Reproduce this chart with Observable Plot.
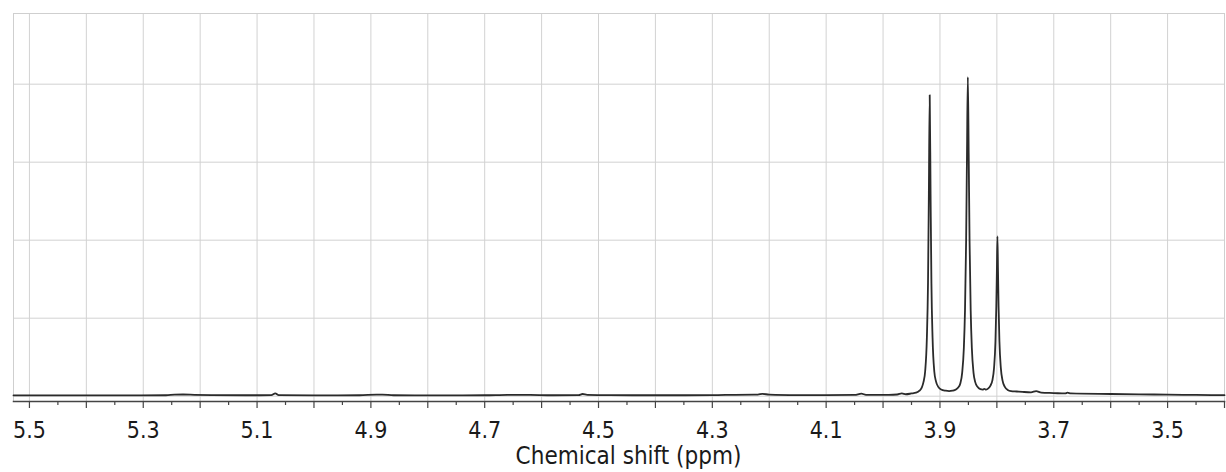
<!DOCTYPE html>
<html>
<head>
<meta charset="utf-8">
<script src="https://cdn.jsdelivr.net/npm/d3@7"></script>
<script src="https://cdn.jsdelivr.net/npm/@observablehq/plot@0.6"></script>
<style>
  html, body { margin: 0; padding: 0; background: #fff; }
</style>
</head>
<body>
<div id="chart"></div>
<script>
// Chemical shift (ppm) and intensity (arbitrary units, 1 = one grid step)
const shift = [
  5.528, 5.45, 5.35, 5.26, 5.245, 5.23, 5.21, 5.18, 5.12, 5.075, 5.068, 5.062, 5.00,
  4.92, 4.89, 4.88, 4.86, 4.78, 4.70, 4.66, 4.62, 4.58, 4.535, 4.528, 4.52, 4.48,
  4.40, 4.30, 4.26, 4.22, 4.212, 4.20, 4.15, 4.10, 4.05, 4.038, 4.03, 3.99, 3.975,
  3.967, 3.960,
  3.950, 3.942, 3.936, 3.932, 3.929, 3.926, 3.923, 3.921, 3.9195, 3.918, 3.9165, 3.915,
  3.913, 3.910, 3.907, 3.903, 3.898, 3.890, 3.884, 3.878,
  3.872, 3.868, 3.864, 3.861, 3.858, 3.856, 3.854, 3.8525, 3.851, 3.8495, 3.848, 3.846,
  3.844, 3.841, 3.838, 3.834, 3.829, 3.825, 3.822, 3.819,
  3.815, 3.811, 3.808, 3.805, 3.8025, 3.801, 3.800, 3.799, 3.798, 3.797, 3.7955, 3.793,
  3.790, 3.786, 3.781, 3.775, 3.765, 3.755, 3.740, 3.731, 3.722, 3.700, 3.680, 3.676,
  3.670, 3.600, 3.550, 3.500, 3.450, 3.400
];
const intensity = [
  0.010, 0.010, 0.011, 0.012, 0.020, 0.022, 0.018, 0.014, 0.012, 0.013, 0.035, 0.014, 0.011,
  0.012, 0.020, 0.020, 0.012, 0.011, 0.012, 0.018, 0.016, 0.012, 0.014, 0.028, 0.018, 0.013,
  0.012, 0.013, 0.018, 0.020, 0.030, 0.020, 0.014, 0.013, 0.016, 0.032, 0.018, 0.018, 0.022,
  0.035, 0.025,
  0.035, 0.045, 0.070, 0.110, 0.180, 0.320, 0.750, 1.450, 2.600, 3.860, 2.600, 1.450,
  0.750, 0.320, 0.190, 0.120, 0.085, 0.070, 0.065, 0.070,
  0.085, 0.110, 0.170, 0.300, 0.620, 1.100, 2.000, 3.100, 4.090, 3.100, 2.000, 1.100,
  0.620, 0.300, 0.180, 0.120, 0.090, 0.085, 0.095, 0.085,
  0.100, 0.140, 0.200, 0.360, 0.700, 1.150, 1.600, 2.050, 1.600, 1.150, 0.700, 0.360,
  0.200, 0.120, 0.080, 0.065, 0.060, 0.055, 0.050, 0.065, 0.045, 0.040, 0.035, 0.045,
  0.035, 0.028, 0.024, 0.020, 0.016, 0.013
];
// Axis ticks and grid
const majorTicks = [5.5, 5.4, 5.3, 5.2, 5.1, 5.0, 4.9, 4.8, 4.7, 4.6, 4.5, 4.4, 4.3, 4.2, 4.1, 4.0, 3.9, 3.8, 3.7, 3.6, 3.5, 3.4];
const minorTicks = [5.45, 5.35, 5.25, 5.15, 5.05, 4.95, 4.85, 4.75, 4.65, 4.55, 4.45, 4.35, 4.25, 4.15, 4.05, 3.95, 3.85, 3.75, 3.65, 3.55, 3.45];
const labelTicks = [5.5, 5.3, 5.1, 4.9, 4.7, 4.5, 4.3, 4.1, 3.9, 3.7, 3.5];
const yGrid = [0, 1, 2, 3, 4];
const xLabel = "Chemical shift (ppm)";

const spectrum = shift.map((x, i) => ({x, y: intensity[i]}));
const font = "'DejaVu Sans Condensed', 'DejaVu Sans', sans-serif";

const chart = Plot.plot({
  width: 1226,
  height: 472,
  marginTop: 13,
  marginLeft: 13,
  marginRight: 2,
  marginBottom: 71,
  style: {fontFamily: font, fontStretch: "condensed", background: "#fff", color: "#222"},
  x: {domain: [5.528, 3.4], axis: null},
  y: {domain: [-0.068, 4.906], axis: null},
  marks: [
    Plot.gridX(majorTicks, {stroke: "#d2d2d2", strokeOpacity: 1, strokeWidth: 1}),
    Plot.gridY(yGrid, {stroke: "#d2d2d2", strokeOpacity: 1, strokeWidth: 1}),
    Plot.frame({stroke: "#cfcfcf", strokeWidth: 1}),
    Plot.line(spectrum, {x: "x", y: "y", stroke: "#2b2b2b", strokeWidth: 1.8, curve: "monotone-x"}),
    Plot.frame({anchor: "bottom", stroke: "#444", strokeWidth: 1.5}),
    Plot.axisX({ticks: majorTicks, tickSize: 7, tickFormat: () => "", stroke: "#444", strokeWidth: 1.2, label: null}),
    Plot.axisX({ticks: minorTicks, tickSize: 4, tickFormat: () => "", stroke: "#444", strokeWidth: 1.2, label: null}),
    Plot.axisX({ticks: labelTicks, tickSize: 0, tickPadding: 20, fontSize: 23, fill: "#1a1a1a", tickFormat: d => d.toFixed(1), label: null}),
    Plot.text([xLabel], {frameAnchor: "bottom", lineAnchor: "top", dy: 45, dx: 9.5, fontSize: 24, fill: "#1a1a1a"})
  ]
});
document.getElementById("chart").append(chart);
</script>
</body>
</html>
